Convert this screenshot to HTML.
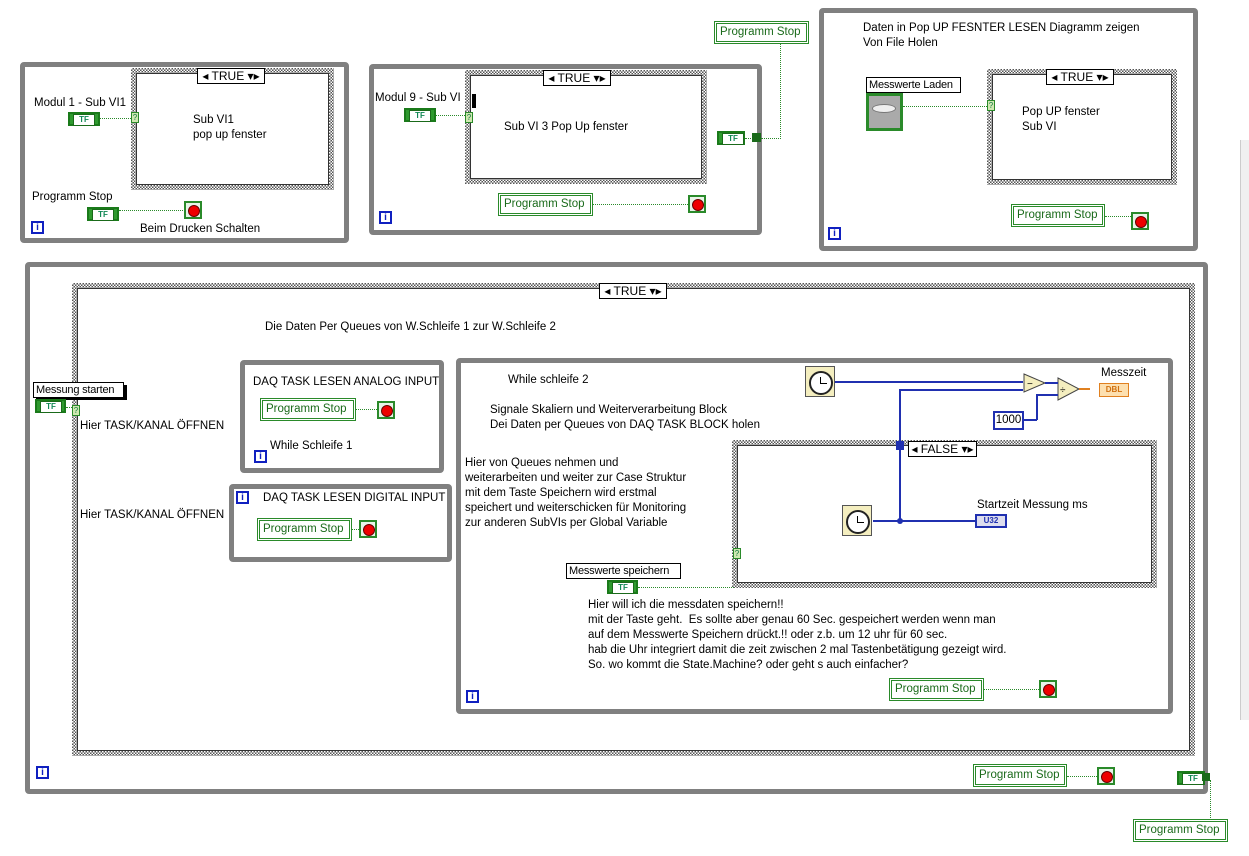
<!DOCTYPE html>
<html><head><meta charset="utf-8"><style>
body{margin:0;width:1249px;height:856px;background:#fff;position:relative;overflow:hidden;font-family:"Liberation Sans",sans-serif;font-size:11.5px;color:#000}
div,span{position:absolute;box-sizing:border-box}
.wl{border:5px solid #808080;border-radius:4px}
.cs{background:repeating-conic-gradient(#555 0 25%,#fff 0 50%) 0 0/3px 3px}
.cs>.in{left:5px;top:5px;right:5px;bottom:5px;background:#fff;border:1px solid #333}
.sel{background:#fff;border:1px solid #000;height:16px;font-size:12px;line-height:14px;text-align:center}
.t{white-space:nowrap;line-height:15px}
.tf{width:32px;height:14px;border:2px solid #1a7a1a;background:#2f9a2f;}
.tf:after{content:"TF";position:absolute;left:3px;top:0px;width:20px;height:10px;background:#fff;border:1px solid #1a6a1a;font-size:8px;font-weight:bold;line-height:9px;text-align:center;color:#185;}
.stop{width:18px;height:18px;border:2px solid #2a8a2a;background:#e8f4e8}
.stop:after{content:"";position:absolute;left:2px;top:2px;width:10px;height:10px;border-radius:50%;background:#e00;border:1px solid #600}
.ps{height:23px;border:3px double #2a8a2a;color:#1a6a1a;font-size:11.5px;line-height:16px;padding:0 3px;white-space:nowrap;background:#fff}
.i{width:13px;height:13px;border:2px solid #1020c0;font-size:10px;font-weight:bold;color:#1020c0;text-align:center;line-height:9px}
.q{width:8px;height:11px;border:1px solid #2a8a2a;background:#cfe8b0;font-size:8px;line-height:9px;text-align:center;color:#174}
.dw{height:0;border-top:1px dotted #2a8a2a}
.dv{width:0;border-left:1px dotted #2a8a2a}
.bw{background:#2030b0}
.lbl{border:1px solid #000;background:#fff;height:16px;line-height:14px;padding:0 2px;white-space:nowrap;font-size:11px;letter-spacing:-0.2px}
.clk{width:30px;height:31px;border:1px solid #555;background:#f4eebf}
.clk:after{content:"";position:absolute;left:3px;top:4px;width:20px;height:20px;border-radius:50%;border:2px solid #222;background:#fff}
.clk:before{content:"";position:absolute;left:14px;top:10px;width:6px;height:6px;border-left:1px solid #000;border-bottom:1px solid #000;z-index:2}
</style></head><body>

<div style="left:1240px;top:140px;width:9px;height:580px;background:#f0f0f0;border-left:1px solid #ccc"></div>

<!-- Frame 1 -->
<div class="wl" style="left:20px;top:62px;width:329px;height:181px"></div>
<div class="cs" style="left:131px;top:68px;width:203px;height:122px"><div class="in"></div></div>
<div class="sel" style="left:197px;top:68px;width:68px">◂ TRUE ▾▸</div>
<div class="t" style="left:34px;top:96px">Modul 1 - Sub VI1</div>
<div class="tf" style="left:68px;top:112px"></div>
<div class="dw" style="left:100px;top:118px;width:31px"></div>
<div class="q" style="left:131px;top:112px">?</div>
<div class="t" style="left:193px;top:113px">Sub VI1<br>pop up fenster</div>
<div class="t" style="left:32px;top:190px">Programm Stop</div>
<div class="tf" style="left:87px;top:207px"></div>
<div class="dw" style="left:119px;top:210px;width:66px"></div>
<div class="stop" style="left:184px;top:201px"></div>
<div class="t" style="left:140px;top:222px">Beim Drucken Schalten</div>
<div class="i" style="left:31px;top:221px">i</div>

<!-- Frame 2 -->
<div class="wl" style="left:369px;top:64px;width:393px;height:171px"></div>
<div class="cs" style="left:465px;top:70px;width:242px;height:114px"><div class="in"></div></div>
<div class="sel" style="left:543px;top:70px;width:68px">◂ TRUE ▾▸</div>
<div class="t" style="left:375px;top:91px">Modul 9 - Sub VI</div>
<div style="left:472px;top:94px;width:4px;height:14px;background:#000"></div>
<div class="tf" style="left:404px;top:108px"></div>
<div class="dw" style="left:436px;top:115px;width:29px"></div>
<div class="q" style="left:465px;top:112px">?</div>
<div class="t" style="left:504px;top:120px">Sub VI 3 Pop Up fenster</div>
<div class="ps" style="left:498px;top:193px;width:95px">Programm Stop</div>
<div class="dw" style="left:593px;top:204px;width:95px"></div>
<div class="stop" style="left:688px;top:195px"></div>
<div class="i" style="left:379px;top:211px">i</div>
<div class="tf" style="left:717px;top:131px;width:28px"></div>
<div class="dw" style="left:745px;top:138px;width:10px"></div>
<div style="left:752px;top:133px;width:9px;height:9px;background:#1a6a1a"></div>
<div class="dv" style="left:780px;top:44px;height:95px"></div>
<div class="dw" style="left:761px;top:138px;width:20px"></div>
<div class="ps" style="left:714px;top:21px;width:95px">Programm Stop</div>

<!-- Frame 3 -->
<div class="wl" style="left:819px;top:8px;width:379px;height:243px"></div>
<div class="t" style="left:863px;top:21px">Daten in Pop UP FESNTER LESEN Diagramm zeigen<br>Von File Holen</div>
<div class="lbl" style="left:866px;top:77px;width:95px">Messwerte Laden</div>
<div style="left:866px;top:93px;width:37px;height:38px;border:3px solid #2a8a2a;background:#aaa"></div>
<div style="left:872px;top:104px;width:24px;height:9px;border-radius:50%;background:#eee;border:1px solid #777"></div>
<div class="dw" style="left:903px;top:106px;width:84px"></div>
<div class="cs" style="left:987px;top:69px;width:190px;height:116px"><div class="in"></div></div>
<div class="sel" style="left:1046px;top:69px;width:68px">◂ TRUE ▾▸</div>
<div class="q" style="left:987px;top:100px">?</div>
<div class="t" style="left:1022px;top:105px">Pop UP fenster<br>Sub VI</div>
<div class="ps" style="left:1011px;top:204px;width:94px">Programm Stop</div>
<div class="dw" style="left:1105px;top:216px;width:26px"></div>
<div class="stop" style="left:1131px;top:212px"></div>
<div class="i" style="left:828px;top:227px">i</div>

<!-- Big frame -->
<div class="wl" style="left:25px;top:262px;width:1183px;height:532px"></div>
<div class="cs" style="left:72px;top:283px;width:1123px;height:473px"><div class="in"></div></div>
<div class="sel" style="left:599px;top:283px;width:68px">◂ TRUE ▾▸</div>
<div class="t" style="left:265px;top:320px">Die Daten Per Queues von W.Schleife 1 zur W.Schleife 2</div>
<div style="left:36px;top:385px;width:91px;height:15px;background:#000"></div>
<div class="lbl" style="left:33px;top:382px;width:91px">Messung starten</div>
<div class="tf" style="left:35px;top:399px;width:31px"></div>
<div class="dw" style="left:66px;top:407px;width:6px"></div>
<div class="q" style="left:72px;top:405px">?</div>
<div class="t" style="left:80px;top:419px">Hier TASK/KANAL ÖFFNEN</div>
<div class="t" style="left:80px;top:508px">Hier TASK/KANAL ÖFFNEN</div>
<div class="i" style="left:36px;top:766px">i</div>

<!-- Analog loop -->
<div class="wl" style="left:240px;top:360px;width:204px;height:113px"></div>
<div class="t" style="left:253px;top:375px">DAQ TASK LESEN ANALOG INPUT</div>
<div class="ps" style="left:260px;top:398px;width:96px">Programm Stop</div>
<div class="dw" style="left:356px;top:409px;width:21px"></div>
<div class="stop" style="left:377px;top:401px"></div>
<div class="t" style="left:270px;top:439px">While Schleife 1</div>
<div class="i" style="left:254px;top:450px">i</div>

<!-- Digital loop -->
<div class="wl" style="left:229px;top:484px;width:223px;height:78px"></div>
<div class="i" style="left:236px;top:491px">i</div>
<div class="t" style="left:263px;top:491px">DAQ TASK LESEN DIGITAL INPUT</div>
<div class="ps" style="left:257px;top:518px;width:95px">Programm Stop</div>
<div class="dw" style="left:352px;top:529px;width:7px"></div>
<div class="stop" style="left:359px;top:520px"></div>

<!-- While loop 2 -->
<div class="wl" style="left:456px;top:358px;width:717px;height:356px"></div>
<div class="t" style="left:508px;top:373px">While schleife 2</div>
<div class="t" style="left:490px;top:403px">Signale Skaliern und Weiterverarbeitung Block<br>Dei Daten per Queues von DAQ TASK BLOCK holen</div>
<div class="t" style="left:465px;top:456px">Hier von Queues nehmen und<br>weiterarbeiten und weiter zur Case Struktur<br>mit dem Taste Speichern wird erstmal<br>speichert und weiterschicken für Monitoring<br>zur anderen SubVIs per Global Variable</div>
<div class="cs" style="left:732px;top:440px;width:425px;height:148px"><div class="in"></div></div>
<div class="sel" style="left:908px;top:441px;width:69px">◂ FALSE ▾▸</div>
<div class="q" style="left:733px;top:548px">?</div>

<div class="clk" style="left:805px;top:366px"></div>
<div class="bw" style="left:835px;top:381px;width:188px;height:2px"></div>
<div class="bw" style="left:899px;top:389px;width:124px;height:2px"></div>
<div class="bw" style="left:899px;top:389px;width:2px;height:133px"></div>
<div class="bw" style="left:896px;top:441px;width:8px;height:9px"></div>
<div class="clk" style="left:842px;top:505px"></div>
<div class="bw" style="left:873px;top:520px;width:103px;height:2px"></div>
<div class="bw" style="left:897px;top:518px;width:6px;height:6px;border-radius:50%"></div>
<svg style="position:absolute;left:1020px;top:370px" width="70" height="34">
<polygon points="4,4 25,13 4,22" fill="#f4eebf" stroke="#444"/>
<text x="7" y="17" font-size="10" font-family="Liberation Sans">−</text>
<polygon points="38,8 59,19 38,30" fill="#f4eebf" stroke="#444"/>
<text x="40" y="23" font-size="10" font-family="Liberation Sans">÷</text>
<line x1="25" y1="13" x2="38" y2="13" stroke="#2030b0" stroke-width="2"/>
<line x1="59" y1="19" x2="80" y2="19" stroke="#e08020" stroke-width="2"/>
</svg>
<div class="bw" style="left:1023px;top:419px;width:14px;height:2px"></div>
<div class="bw" style="left:1036px;top:394px;width:2px;height:26px"></div>
<div class="bw" style="left:1036px;top:394px;width:22px;height:2px"></div>
<div style="left:993px;top:411px;width:31px;height:19px;border:2px solid #2030b0;background:#fff;line-height:15px;text-align:center">1000</div>
<div class="t" style="left:1101px;top:366px">Messzeit</div>
<div style="left:1099px;top:383px;width:30px;height:14px;border:1px solid #e08020;background:#fde0b0;font-size:8px;font-weight:bold;color:#d07010;line-height:12px;text-align:center">DBL</div>
<div class="t" style="left:977px;top:498px">Startzeit Messung ms</div>
<div style="left:975px;top:514px;width:32px;height:14px;border:2px solid #2030b0;background:#dde;font-size:8px;font-weight:bold;color:#2030b0;line-height:10px;text-align:center">U32</div>

<div class="lbl" style="left:566px;top:563px;width:115px">Messwerte speichern</div>
<div class="tf" style="left:607px;top:580px;width:31px"></div>
<div class="dw" style="left:638px;top:587px;width:96px"></div>
<div class="t" style="left:588px;top:598px">Hier will ich die messdaten speichern!!<br>mit der Taste geht.&nbsp; Es sollte aber genau 60 Sec. gespeichert werden wenn man<br>auf dem Messwerte Speichern drückt.!! oder z.b. um 12 uhr für 60 sec.<br>hab die Uhr integriert damit die zeit zwischen 2 mal Tastenbetätigung gezeigt wird.<br>So. wo kommt die State.Machine? oder geht s auch einfacher?</div>
<div class="ps" style="left:889px;top:678px;width:95px">Programm Stop</div>
<div class="dw" style="left:984px;top:689px;width:55px"></div>
<div class="stop" style="left:1039px;top:680px"></div>
<div class="i" style="left:466px;top:690px">i</div>

<!-- bottom -->
<div class="ps" style="left:973px;top:764px;width:94px">Programm Stop</div>
<div class="dw" style="left:1067px;top:776px;width:30px"></div>
<div class="stop" style="left:1097px;top:767px"></div>
<div class="tf" style="left:1177px;top:771px;width:28px"></div>
<div style="left:1202px;top:773px;width:8px;height:8px;background:#1a6a1a"></div>
<div class="dv" style="left:1210px;top:780px;height:40px"></div>
<div class="ps" style="left:1133px;top:819px;width:95px">Programm Stop</div>
</body></html>
